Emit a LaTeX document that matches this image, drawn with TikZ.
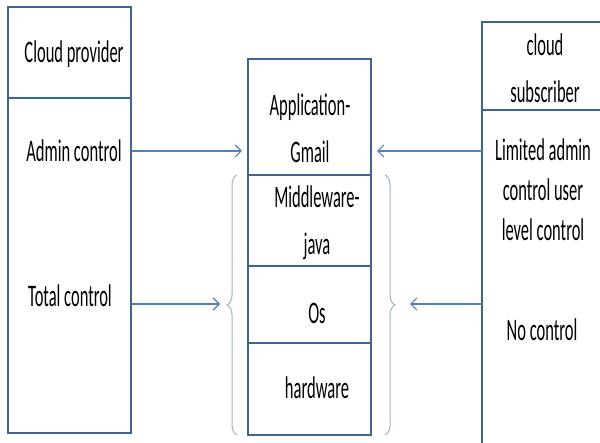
\documentclass[tikz,border=0pt]{standalone}
\usepackage{fontspec}
\setmainfont{Carlito}
\usetikzlibrary{positioning, arrows.meta, decorations.pathreplacing}
\definecolor{colour_box}{HTML}{3D6494}
\definecolor{colour_arrow}{HTML}{4F81BD}
\definecolor{colour_brace}{HTML}{95B3D7}

\begin{document}
\begin{tikzpicture}[
    x=1pt, y=-1pt,
    box/.style={rectangle, draw=colour_box, line width=2.5pt, inner sep=0pt,
                outer sep=0pt, minimum width=123pt},
    txt/.style={font=\fontsize{16.5}{25}\selectfont, align=center,
                yscale=1.9, inner sep=0pt},
    arrow/.style={-{Straight Barb[length=6pt, width=12pt]}, colour_arrow,
                  line width=1.1pt},
    brace/.style={decorate, decoration={brace, amplitude=10pt},
                  colour_brace, line width=1pt}
]
\clip (0,0) rectangle (600,443);

% Cloud provider column
\node[box, minimum height=91pt] (prov_head) at (69.5,52.5) {};
\node[box, minimum height=335pt, below=0pt of prov_head] (prov_body) {};
\node[txt] (prov_title) at (74,54) {Cloud provider};
\node[txt] (admin) at (74,151) {Admin control};
\node[txt] (total) at (70,296) {Total control};

% Service stack
\node[box, minimum height=116pt] (app) at (309.5,117) {};
\node[box, minimum height=91pt, below=0pt of app] (mw) {};
\node[box, minimum height=77pt, below=0pt of mw] (os) {};
\node[box, minimum height=92pt, below=0pt of os] (hw) {};
\node[txt] (app_txt) at (310,128) {Application-\\Gmail};
\node[txt] (mw_txt) at (317,223) {Middleware-\\java};
\node[txt] (os_txt) at (317,313) {Os};
\node[txt] (hw_txt) at (317,388) {hardware};

% Cloud subscriber column
\node[box, minimum width=140pt, minimum height=88pt] (sub_head) at (552,66) {};
\node[box, minimum width=140pt, minimum height=350pt, below=0pt of sub_head] (sub_body) {};
\node[txt] (sub_title) at (545,68) {cloud\\subscriber};
\node[txt, font=\fontsize{16.5}{21}\selectfont] (limited) at (543,190)
     {Limited admin\\control user\\level control};
\node[txt] (nocontrol) at (542,330) {No control};

% Braces round the lower layers
\coordinate (l_tip) at (227,304);
\coordinate (r_tip) at (395,304);
\draw[brace] ([xshift=-11pt]hw.south west) -- ([xshift=-11pt]mw.north west);
\draw[brace] ([xshift=14pt]mw.north east) -- ([xshift=14pt]hw.south east);

% Arrows
\draw[arrow, shorten >=6pt] (prov_body.east |- admin) -- (app.west |- admin);
\draw[arrow, shorten >=6pt] (sub_body.west |- admin) -- (app.east |- admin);
\draw[arrow, shorten >=7pt] (prov_body.east |- l_tip) -- (l_tip);
\draw[arrow, shorten >=15pt] (sub_body.west |- r_tip) -- (r_tip);

\end{tikzpicture}
\end{document}
